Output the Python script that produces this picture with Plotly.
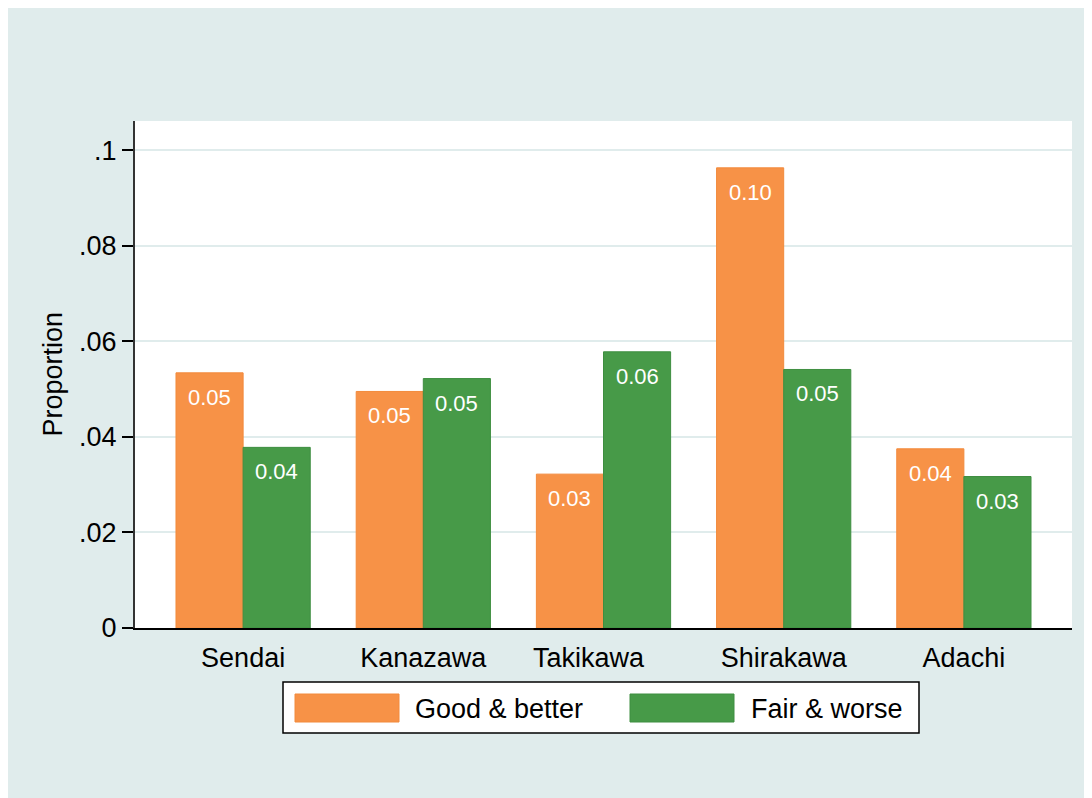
import plotly.graph_objects as go

categories = ["Sendai", "Kanazawa", "Takikawa", "Shirakawa", "Adachi"]
tick_labels = ["Sendai", "Kanazawa", "Takikawa\u00a0\u00a0\u00a0\u00a0", "Shirakawa", "Adachi"]
good_better = [0.0534, 0.0495, 0.0322, 0.0963, 0.0375]
fair_worse = [0.0378, 0.0522, 0.0578, 0.0541, 0.0317]
series_names = ["Good & better", "Fair & worse"]
y_tickvals = [0, 0.02, 0.04, 0.06, 0.08, 0.1]
y_ticktext = ["0", ".02", ".04", ".06", ".08", ".1"]

ORANGE = "#F79247"
GREEN = "#479A48"
BG = "#E0ECEC"
FONT = "Liberation Sans, Arial, sans-serif"

W, H = 1092, 798
OFF = 8  # page body margin offset (screen coords -> figure coords)
# plot area in screen coordinates
SX0, SX1, SY0, SY1 = 135, 1072, 121, 628
L = SX0 - OFF
T = SY0 - OFF
R = W - (SX1 - OFF)
B = H - (SY1 - OFF)
PW, PH = W - L - R, H - T - B


def px(xs):
    return (xs - SX0) / PW


def py(ys):
    return (SY1 - ys) / PH


fig = go.Figure()
for name, vals, col, edge in [
    (series_names[0], good_better, ORANGE, "#F28A3C"),
    (series_names[1], fair_worse, GREEN, "#3E8E40"),
]:
    fig.add_trace(go.Bar(
        x=categories, y=vals, name=name,
        marker=dict(color=col, line=dict(color=edge, width=1)),
        showlegend=False,
    ))

# value labels inside the top of each bar
bar_half_px = PW / 5.2 * (1 - 0.255) / 4
annotations = []
for vals, shift in [(good_better, -bar_half_px), (fair_worse, bar_half_px)]:
    for c, v in zip(categories, vals):
        annotations.append(dict(
            x=c, y=v, xref="x", yref="y", text=f"{v:.2f}", showarrow=False,
            xshift=shift, yshift=-10, yanchor="top", xanchor="center",
            font=dict(family=FONT, size=22, color="white"),
        ))

# y-axis title
annotations.append(dict(
    x=px(52), y=0.5, xref="paper", yref="paper", text="Proportion",
    textangle=-90, showarrow=False, xanchor="center", yanchor="middle",
    font=dict(family=FONT, size=27, color="black"),
))

# custom legend
shapes = [
    dict(type="rect", xref="paper", yref="paper", x0=px(283), x1=px(919),
         y0=py(733), y1=py(682), fillcolor="white", line=dict(color="black", width=1.5)),
    dict(type="rect", xref="paper", yref="paper", x0=px(295), x1=px(399),
         y0=py(722), y1=py(694), fillcolor=ORANGE, line=dict(color="#F28A3C", width=1)),
    dict(type="rect", xref="paper", yref="paper", x0=px(630), x1=px(734),
         y0=py(722), y1=py(694), fillcolor=GREEN, line=dict(color="#3E8E40", width=1)),
]
for name, x0 in [(series_names[0], 413), (series_names[1], 749)]:
    annotations.append(dict(
        x=px(x0), y=py(709), xref="paper", yref="paper", text=name,
        showarrow=False, xanchor="left", yanchor="middle",
        font=dict(family=FONT, size=27, color="black"),
    ))

fig.update_layout(
    width=W, height=H,
    margin=dict(l=L, r=R, t=T, b=B, autoexpand=False),
    paper_bgcolor=BG, plot_bgcolor="white",
    barmode="group", bargap=0.255, bargroupgap=0,
    font=dict(family=FONT, size=27, color="black"),
    annotations=annotations, shapes=shapes,
    xaxis=dict(
        range=[-0.6, 4.6], showgrid=False, ticks="", showline=True,
        linecolor="black", linewidth=2, ticklabelstandoff=5,
        tickmode="array", tickvals=categories, ticktext=tick_labels,
        tickfont=dict(family=FONT, size=27, color="black"), fixedrange=True,
    ),
    yaxis=dict(
        range=[0, 0.1061], tickvals=y_tickvals, ticktext=y_ticktext,
        showgrid=True, gridcolor=BG, gridwidth=2, zeroline=False,
        showline=True, linecolor="#333333", linewidth=2,
        ticks="outside", ticklen=11, tickwidth=1.5, tickcolor="black",
        ticklabelstandoff=0,
        tickfont=dict(family=FONT, size=27, color="black"), fixedrange=True,
    ),
)

fig.write_html("out.html")
